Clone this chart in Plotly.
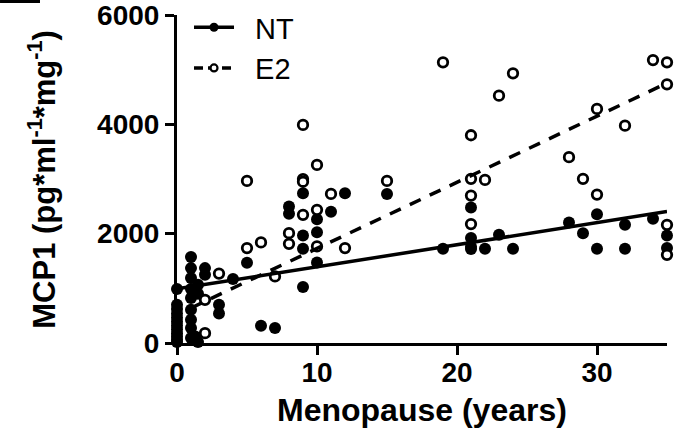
import plotly.graph_objects as go

# ---- data ----
nt_x = [0, 0, 0, 0, 0, 0, 0, 0, 0, 0, 0, 0,
        1, 1, 1, 1, 1, 1, 1, 1, 1,
        1.5, 1.5, 2, 2, 1.3, 1.5,
        3, 3, 4, 5, 6, 7,
        8, 8, 9, 9, 9, 9, 10, 10, 10, 11, 12, 15,
        19, 21, 21, 21, 21, 22, 23, 24, 28, 29, 30, 30, 32, 32, 34, 35, 35]
nt_y = [987, 700, 620, 540, 460, 390, 320, 250, 180, 120, 60, 20,
        1572, 1370, 1188, 987, 822, 608, 426, 274, 91,
        1066, 900, 1370, 1250, 120, 20,
        700, 540, 1170, 1470, 316, 274,
        2497, 2363, 2741, 1967, 1723, 1023, 2266, 2028, 1473, 2400, 2741, 2728,
        1723, 2478, 1919, 1760, 1720, 1723, 1979, 1723, 2204, 2010, 2357, 1723, 2162, 1723, 2272, 1967, 1736]

e2_x = [2, 2, 3, 5, 5, 6, 7, 8, 8, 9, 9, 9, 9, 10, 10, 10, 11, 12, 15,
        19, 21, 21, 21, 21, 22, 23, 24, 28, 29, 30, 30, 32, 34, 35, 35, 35, 35]
e2_y = [790, 180, 1270, 2966, 1736, 1840, 1218, 2010, 1815, 3990, 3000, 2950, 2345,
        3258, 2436, 1766, 2728, 1736, 2966,
        5135, 3801, 3003, 2697, 2175, 2984, 4525, 4934, 3399, 3003, 4282, 2716, 3977,
        5177, 5135, 4733, 2162, 1614]

# linear fits
nt_intercept, nt_slope = 990, 40.4
e2_intercept, e2_slope = 520, 121
nt_fit_x = [0, 35]
e2_fit_x = [1, 35]

x_ticks = [0, 10, 20, 30]
y_ticks = [0, 2000, 4000, 6000]

FONT = "Liberation Sans, Arial, Helvetica, sans-serif"

fig = go.Figure()

fig.add_trace(go.Scatter(
    x=nt_x, y=nt_y, mode="markers", showlegend=False, cliponaxis=False,
    marker=dict(symbol="circle", size=12, color="black", line=dict(width=0))))
fig.add_trace(go.Scatter(
    x=e2_x, y=e2_y, mode="markers", showlegend=False, cliponaxis=False,
    marker=dict(symbol="circle", size=9.5, color="white", line=dict(color="black", width=2.8))))

fig.add_trace(go.Scatter(
    x=nt_fit_x, y=[nt_intercept + nt_slope * v for v in nt_fit_x], mode="lines",
    showlegend=False, cliponaxis=False, line=dict(color="black", width=3.5)))
fig.add_trace(go.Scatter(
    x=e2_fit_x, y=[e2_intercept + e2_slope * v for v in e2_fit_x], mode="lines",
    showlegend=False, cliponaxis=False, line=dict(color="black", width=3.5, dash="12px,10px")))

# legend entries
fig.add_trace(go.Scatter(
    x=[None], y=[None], mode="lines+markers", name="\u00a0\u00a0NT",
    line=dict(color="black", width=3.5),
    marker=dict(symbol="circle", size=9, color="black")))
fig.add_trace(go.Scatter(
    x=[None], y=[None], mode="lines+markers", name="\u00a0\u00a0E2",
    line=dict(color="black", width=3.5, dash="9px,5px"),
    marker=dict(symbol="circle", size=7, color="white", line=dict(color="black", width=2.2))))

axis_common = dict(
    showgrid=False, zeroline=False, showline=True, linecolor="black", linewidth=3,
    ticks="outside", ticklen=9, tickwidth=3, tickcolor="black",
    ticklabeloverflow="allow",
    tickfont=dict(family=FONT, size=28, color="black", weight="bold"),
)

fig.update_layout(
    width=687, height=434,
    margin=dict(l=177, r=20, t=15, b=91, autoexpand=False),
    paper_bgcolor="white", plot_bgcolor="white",
    xaxis=dict(range=[0, 35], tickvals=x_ticks, ticklabelstandoff=-7, **axis_common),
    yaxis=dict(range=[0, 6001], tickvals=y_ticks, **axis_common),
    legend=dict(x=0.0245, y=1.04, xanchor="left", yanchor="top",
                font=dict(family=FONT, size=29, color="black"),
                bgcolor="rgba(0,0,0,0)", itemwidth=40),
    annotations=[
        dict(text="<b>Menopause (years)</b>", xref="paper", yref="paper",
             x=0.5, y=-0.205, xanchor="center", yanchor="middle", showarrow=False,
             font=dict(family=FONT, size=32, color="black")),
        dict(text="<b>MCP1 (pg*ml<sup>-1</sup>*mg<sup>-1</sup>)</b>", xref="paper", yref="paper",
             x=-0.276, y=0.5, xanchor="center", yanchor="middle", textangle=-90, showarrow=False,
             font=dict(family=FONT, size=31, color="black")),
    ],
    shapes=[dict(type="rect", xref="paper", yref="paper",
                 x0=-0.3612, x1=-0.2796, y0=1.0366, y1=1.07,
                 fillcolor="black", line=dict(width=0))],
)

fig.write_html("out.html")
